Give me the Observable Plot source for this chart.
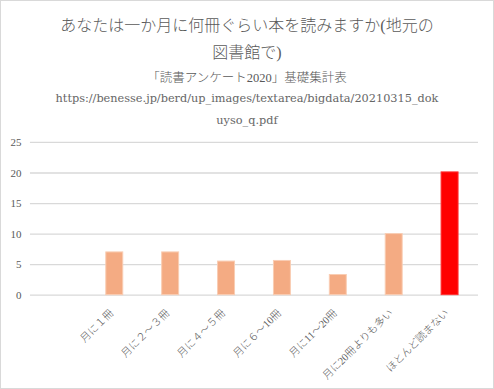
<!DOCTYPE html>
<html><head><meta charset="utf-8">
<script src="https://cdn.jsdelivr.net/npm/d3@7"></script>
<script src="https://cdn.jsdelivr.net/npm/@observablehq/plot@0.6"></script>
<style>
html,body{margin:0;padding:0;background:#fff;}
#frame{position:relative;width:492px;height:387px;border:1px solid #d9d9d9;box-sizing:content-box;overflow:hidden;font-family:"Liberation Serif","Noto Sans CJK JP",serif;color:#595959;font-weight:300;}
.t{position:absolute;left:0;width:492px;text-align:center;white-space:nowrap;}
.u{font-family:"DejaVu Serif","Noto Sans CJK JP",serif;color:#666;}
#chart{position:absolute;left:-1px;top:129px;}
</style></head><body>
<div id="frame">
  <div class="t" style="top:11px;font-size:16px;">あなたは一か月に何冊ぐらい本を読みますか(地元の</div>
  <div class="t" style="top:38px;font-size:16px;">図書館で)</div>
  <div class="t" style="top:66px;font-size:12.5px;">「読書アンケート2020」基礎集計表</div>
  <div class="t u" style="top:91px;font-size:11.3px;">https://benesse.jp/berd/up_images/textarea/bigdata/20210315_dok</div>
  <div class="t u" style="top:113px;font-size:11.3px;">uyso_q.pdf</div>
  <div id="chart"></div>
</div>
<script>
const categories = ["", "月に１冊", "月に２～３冊", "月に４～５冊", "月に６～10冊", "月に11～20冊", "月に20冊よりも多い", "ほとんど読まない"];
const values = [0, 7.0, 7.0, 5.5, 5.6, 3.3, 10.0, 20.1];
const highlight = [false, false, false, false, false, false, false, true];
const yTicks = [0, 5, 10, 15, 20, 25];

const data = categories.map((c, i) => ({category: c, value: values[i], hi: highlight[i]}));

const chart = Plot.plot({
  width: 494,
  height: 258,
  marginLeft: 30,
  marginRight: 15,
  marginTop: 12,
  marginBottom: 93,
  style: {fontFamily: '"Liberation Serif","Noto Sans CJK JP",serif', fontSize: "11px", color: "#595959", background: "transparent", fontWeight: 300},
  x: {domain: categories, paddingInner: 0.69, paddingOuter: 0.345, label: null},
  y: {domain: [0, 25], ticks: yTicks, label: null},
  marks: [
    Plot.ruleY(yTicks, {stroke: "#d9d9d9", strokeWidth: 1.3}),
    Plot.barY(data.filter(d => d.value > 0), {x: "category", y: "value", fill: d => d.hi ? "#ff0000" : "#f4ab83", stroke: d => d.hi ? "#ff3030" : "#f9cdb3", strokeWidth: 1}),
    Plot.axisY({ticks: yTicks, tickSize: 0, tickPadding: 9, fill: "#595959", fontSize: 11}),
    Plot.axisX({tickSize: 0, tickRotate: -45, tickPadding: 13, fill: "#595959", fontSize: 10.5, dx: -3, dy: 3})
  ]
});
document.getElementById("chart").appendChild(chart);
</script>
</body></html>
